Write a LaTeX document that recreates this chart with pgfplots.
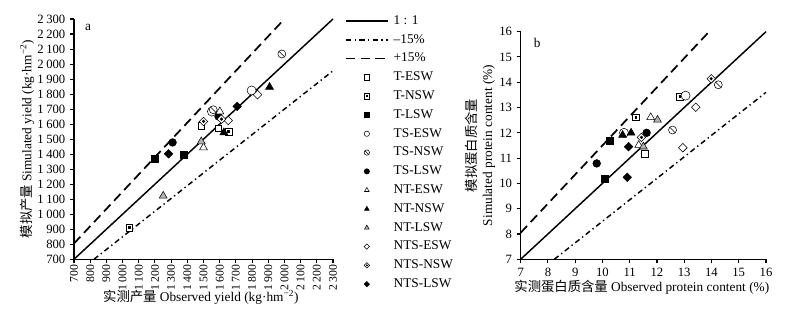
\documentclass[border=0pt]{standalone}
\usepackage{pgfplots}
\pgfplotsset{compat=1.18}
\usepackage{fontspec}
\setmainfont{Liberation Serif}
\newfontfamily\cjk{Noto Sans CJK SC}

\pgfdeclareplotmark{odiam}{%
  \pgfpathmoveto{\pgfqpoint{0pt}{\pgfplotmarksize}}%
  \pgfpathlineto{\pgfqpoint{\pgfplotmarksize}{0pt}}%
  \pgfpathlineto{\pgfqpoint{0pt}{-\pgfplotmarksize}}%
  \pgfpathlineto{\pgfqpoint{-\pgfplotmarksize}{0pt}}%
  \pgfpathclose\pgfusepathqfillstroke}
\pgfdeclareplotmark{ddiam}{%
  \pgfpathmoveto{\pgfqpoint{0pt}{\pgfplotmarksize}}%
  \pgfpathlineto{\pgfqpoint{\pgfplotmarksize}{0pt}}%
  \pgfpathlineto{\pgfqpoint{0pt}{-\pgfplotmarksize}}%
  \pgfpathlineto{\pgfqpoint{-\pgfplotmarksize}{0pt}}%
  \pgfpathclose\pgfusepathqfillstroke
  \begin{pgfscope}\pgfsetfillcolor{black}%
  \pgfpathmoveto{\pgfqpoint{0pt}{0.4\pgfplotmarksize}}%
  \pgfpathlineto{\pgfqpoint{0.4\pgfplotmarksize}{0pt}}%
  \pgfpathlineto{\pgfqpoint{0pt}{-0.4\pgfplotmarksize}}%
  \pgfpathlineto{\pgfqpoint{-0.4\pgfplotmarksize}{0pt}}%
  \pgfpathclose\pgfusepathqfill\end{pgfscope}}
\pgfdeclareplotmark{dsq}{%
  \pgfpathrectangle{\pgfqpoint{-\pgfplotmarksize}{-\pgfplotmarksize}}{\pgfqpoint{2\pgfplotmarksize}{2\pgfplotmarksize}}%
  \pgfusepathqfillstroke
  \begin{pgfscope}\pgfsetfillcolor{black}%
  \pgfpathrectangle{\pgfqpoint{-0.4\pgfplotmarksize}{-0.4\pgfplotmarksize}}{\pgfqpoint{0.8\pgfplotmarksize}{0.8\pgfplotmarksize}}%
  \pgfusepathqfill\end{pgfscope}}
\pgfdeclareplotmark{scirc}{%
  \pgfpathcircle{\pgfpointorigin}{\pgfplotmarksize}\pgfusepathqfillstroke
  \pgfpathmoveto{\pgfqpoint{-0.7\pgfplotmarksize}{0.7\pgfplotmarksize}}%
  \pgfpathlineto{\pgfqpoint{0.7\pgfplotmarksize}{-0.7\pgfplotmarksize}}%
  \pgfusepathqstroke}

\pgfplotsset{
  mk/.style={only marks, mark options={solid, draw=black, line width=0.7pt}},
  tesw/.style={mk, mark=square*, mark size=2.5pt, mark options={fill=white}},
  tnsw/.style={mk, mark=dsq, mark size=2.5pt, mark options={fill=white}},
  tlsw/.style={mk, mark=square*, mark size=2.5pt, mark options={fill=black}},
  tsesw/.style={mk, mark=*, mark size=3.4pt, mark options={fill=white}},
  tsnsw/.style={mk, mark=scirc, mark size=3pt, mark options={fill=white}},
  tslsw/.style={mk, mark=*, mark size=2.9pt, mark options={fill=black}},
  ntesw/.style={mk, mark=triangle*, mark size=3.4pt, mark options={fill=white}},
  ntnsw/.style={mk, mark=triangle*, mark size=3.4pt, mark options={fill=black}},
  ntlsw/.style={mk, mark=triangle*, mark size=3.4pt, mark options={fill=gray!60}},
  ntsesw/.style={mk, mark=odiam, mark size=3.2pt, mark options={fill=white}},
  ntsnsw/.style={mk, mark=ddiam, mark size=3.2pt, mark options={fill=white}},
  ntslsw/.style={mk, mark=odiam, mark size=3.2pt, mark options={fill=black}},
  oneone/.style={no marks, black, line width=1.1pt},
  minus/.style={no marks, black, line width=1.1pt, dash pattern=on 4pt off 2.5pt on 1pt off 2.5pt},
  plus/.style={no marks, black, line width=1.3pt, dash pattern=on 7pt off 4pt},
  common/.style={
    scale only axis, anchor=south west,
    axis lines=left, axis line style={-, line width=0.9pt},
    tick align=outside, major tick length=3pt, tick style={line width=0.8pt, black},
    /pgf/number format/assume math mode=true,
    /pgf/number format/1000 sep={\kern0.2em},
    tick label style={font=\fontsize{9.5}{11}\selectfont},
    label style={font=\fontsize{10}{12}\selectfont},
    clip=false,
  },
}

\begin{document}
\begin{tikzpicture}
\useasboundingbox (0,0) rectangle (599.25pt,243.75pt);
\begin{axis}[common,
  at={(55.5pt,49.3pt)}, width=194.25pt, height=180.2pt,
  xmin=700, xmax=2300, ymin=700, ymax=2300,
  xtick={700,800,...,2300}, ytick={700,800,...,2300},
  x tick label style={rotate=90, anchor=east, inner sep=0.8pt, font=\fontsize{8.8}{10}\selectfont},
  xlabel={{\cjk 实测产量} Observed yield (kg·hm\textsuperscript{−2})},
  ylabel={{\cjk 模拟产量} Simulated yield (kg·hm\textsuperscript{−2})},
  x label style={at={(axis description cs:0.49,-0.157)}, anchor=center},
  y label style={at={(axis description cs:-0.181,0.5)}, anchor=center},
  legend style={at={(1.0463,1.014)}, anchor=north west, draw=none, fill=none,
    inner sep=0pt, outer sep=0pt, row sep=6.1pt, column sep=3.75pt,
    font=\fontsize{10}{12}\selectfont,
    nodes={inner sep=0pt, text height=6.5pt, text depth=1.5pt, anchor=west}},
  legend cell align=left,
  legend image code/.code={\draw[mark repeat=2,mark phase=2,#1] plot coordinates {(0pt,0pt) (15.75pt,0pt) (31.5pt,0pt)};},
  legend image post style={mark size=2pt},
]
\addplot[oneone] coordinates {(700,700) (2300,2300)};
\addlegendentry{1 : 1}
\addplot[minus] coordinates {(823.5,700) (2300,1955)};
\addlegendentry{–15\%}
\addplot[plus] coordinates {(700,805) (2000,2300)};
\addlegendentry{+15\%}
\addplot[tesw] coordinates {(1486,1589) (1591,1573)};
\addlegendentry{T-ESW}
\addplot[tnsw] coordinates {(1042,911) (1655,1549)};
\addlegendentry{T-NSW}
\addplot[tlsw] coordinates {(1198,1371) (1379,1398)};
\addlegendentry{T-LSW}
\addplot[tsesw] coordinates {(1552,1684) (1797,1824)};
\addlegendentry{TS-ESW}
\addplot[tsnsw] coordinates {(1560,1696) (1984,2067)};
\addlegendentry{TS-NSW}
\addplot[tslsw] coordinates {(1309,1478) (1593,1651)};
\addlegendentry{TS-LSW}
\addplot[ntesw] coordinates {(1500,1444) (1601,1684)};
\addlegendentry{NT-ESW}
\addplot[ntnsw] coordinates {(1626,1544) (1908,1847)};
\addlegendentry{NT-NSW}
\addplot[ntlsw] coordinates {(1251,1122) (1486,1484)};
\addlegendentry{NT-LSW}
\addplot[ntsesw] coordinates {(1653,1624) (1834,1796)};
\addlegendentry{NTS-ESW}
\addplot[ntsnsw] coordinates {(1500,1618) (1611,1633)};
\addlegendentry{NTS-NSW}
\addplot[ntslsw] coordinates {(1284,1402) (1708,1718)};
\addlegendentry{NTS-LSW}
\node[anchor=west, font=\fontsize{10}{12}\selectfont] at (rel axis cs:0.025,0.965) {a};
\end{axis}

\begin{axis}[common,
  at={(390.5pt,49.3pt)}, width=184pt, height=170.7pt,
  xmin=7, xmax=16, ymin=7, ymax=16,
  xtick={7,8,...,16}, ytick={7,8,...,16},
  xlabel={{\cjk 实测蛋白质含量} Observed protein content (\%)},
  ylabel={{\cjk 模拟蛋白质含量}\\Simulated protein content (\%)},
  x label style={at={(axis description cs:0.494,-0.122)}, anchor=center},
  y label style={at={(axis description cs:-0.166,0.5)}, anchor=center, align=center},
]
\addplot[oneone] coordinates {(7,7) (16,16)};
\addplot[minus] coordinates {(8.235,7) (16,13.6)};
\addplot[plus] coordinates {(7,8.05) (13.913,16)};
\addplot[tesw] coordinates {(11.55,11.16)};
\addplot[tnsw] coordinates {(11.23,12.61) (12.84,13.43)};
\addplot[tlsw] coordinates {(10.08,10.18) (10.28,11.69)};
\addplot[tsesw] coordinates {(10.79,12.0) (13.05,13.47)};
\addplot[tsnsw] coordinates {(12.57,12.11) (14.25,13.90)};
\addplot[tslsw] coordinates {(9.79,10.79) (11.62,12.0)};
\addplot[ntesw] coordinates {(11.33,11.51) (11.77,12.61)};
\addplot[ntnsw] coordinates {(10.74,11.91) (11.05,12.0)};
\addplot[ntlsw] coordinates {(11.50,11.45) (12.02,12.51)};
\addplot[ntsesw] coordinates {(12.95,11.41) (13.42,13.01)};
\addplot[ntsnsw] coordinates {(11.43,11.82) (13.99,14.14)};
\addplot[ntslsw] coordinates {(10.96,11.45) (10.91,10.24)};
\node[anchor=west, font=\fontsize{10}{12}\selectfont] at (rel axis cs:0.035,0.95) {b};
\end{axis}
\end{tikzpicture}
\end{document}
